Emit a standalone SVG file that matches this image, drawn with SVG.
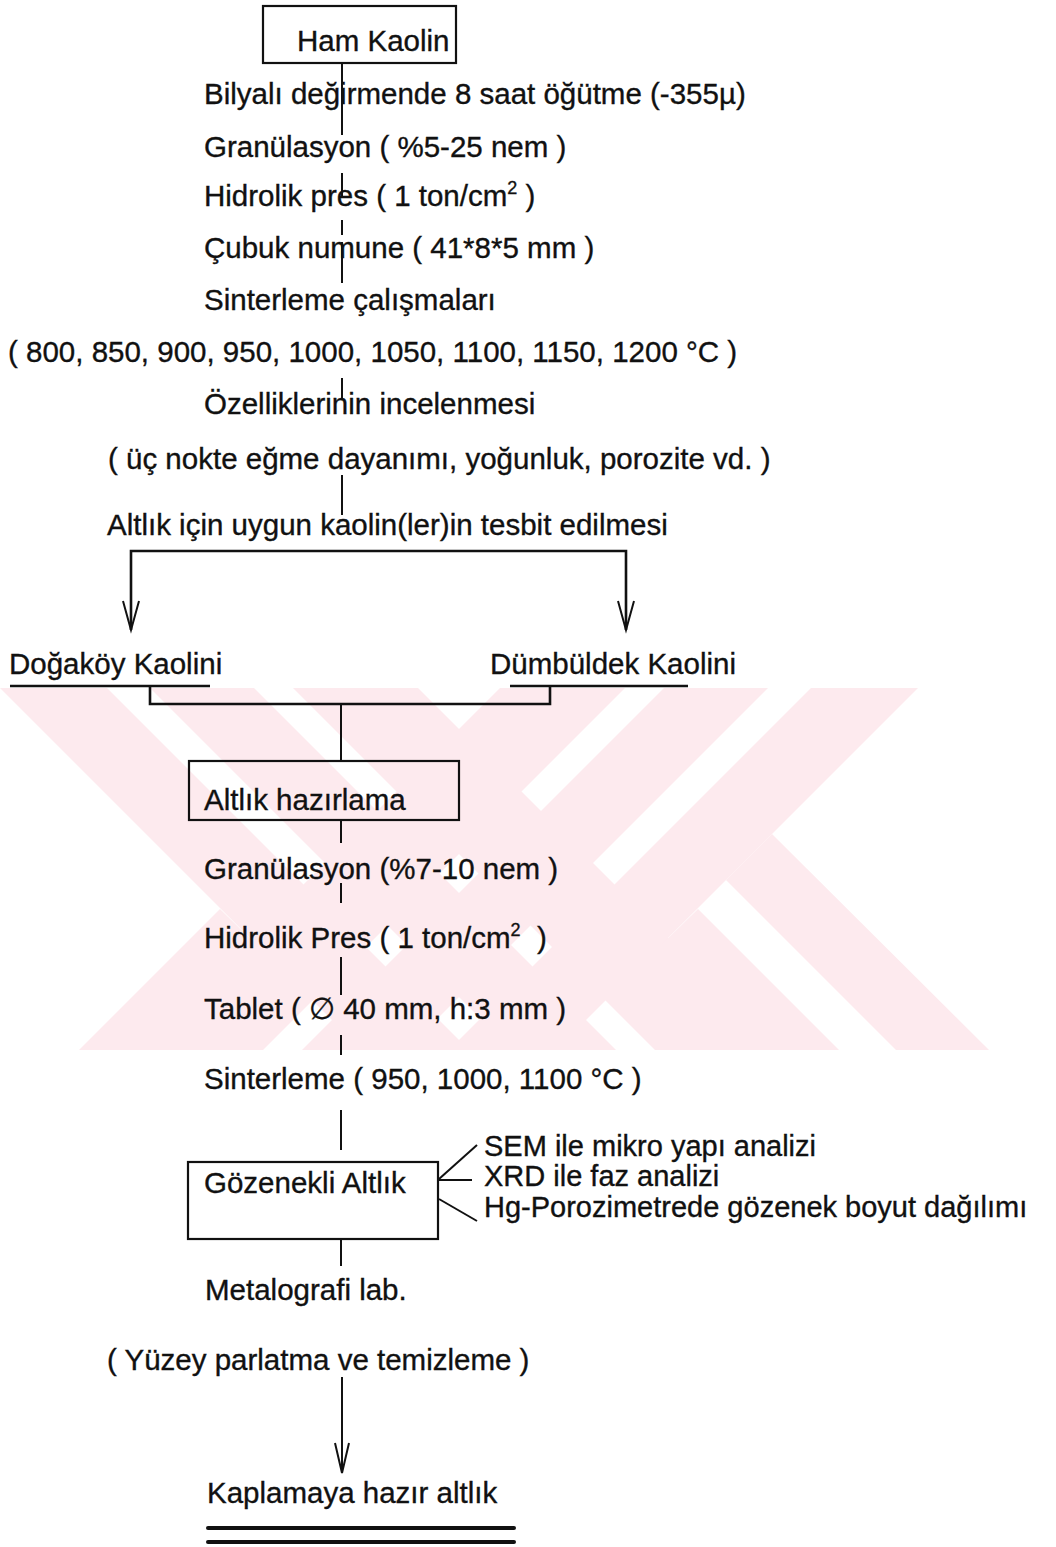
<svg xmlns="http://www.w3.org/2000/svg" width="1056" height="1547" viewBox="0 0 1056 1547">
  <style>
    .t { font-family: "Liberation Sans", Arial, sans-serif; font-size: 29.5px; fill: #111; stroke: #111; stroke-width: 0.35; white-space: pre; }
    .sm { font-size: 29px; }
    .sup { font-size: 18px; }
    .ln { stroke: #111; stroke-width: 2; fill: none; }
    .br { stroke: #111; stroke-width: 2.6; fill: none; }
    .box { stroke: #111; stroke-width: 2.2; fill: none; }
    .wm { fill: #fdeaee; }
  </style>
  <defs>
    <clipPath id="band">
      <rect x="0" y="688" width="1056" height="362"/>
    </clipPath>
  </defs>

  <rect width="1056" height="1547" fill="#fff"/>

  <!-- background emblem (faint) -->
  <g id="emblem" clip-path="url(#band)">
    <!-- rising stripes -->
    <polygon class="wm" points="500,688 625,688 263,1050 138,1050"/>
    <polygon class="wm" points="664,688 768,688 406,1050 302,1050"/>
    <polygon class="wm" points="811,688 918,688 556,1050 449,1050"/>
    <!-- falling stripes -->
    <polygon class="wm" points="0,688 107,688 469,1050 362,1050"/>
    <polygon class="wm" points="150,688 254,688 616,1050 512,1050"/>
    <polygon class="wm" points="293,688 418,688 780,1050 655,1050"/>
    <!-- side arms -->
    <polygon class="wm" points="772,834 989,1050 896,1050 726,880"/>
    <polygon class="wm" points="698,909 839,1050 754,1050 655,951"/>
    <polygon class="wm" points="220,909 79,1050 164,1050 263,951"/>
  </g>

  <!-- connectors -->
  <g id="connectors">
    <line class="ln" x1="342" y1="63" x2="342" y2="135"/>
    <line class="ln" x1="342" y1="173" x2="342" y2="198"/>
    <line class="ln" x1="342" y1="220" x2="342" y2="235"/>
    <line class="ln" x1="342" y1="242" x2="342" y2="283"/>
    <line class="ln" x1="342" y1="378" x2="342" y2="399"/>
    <line class="ln" x1="342" y1="475" x2="342" y2="515"/>
    <!-- split towards the two kaolins -->
    <polyline class="br" points="131,630 131,551 626,551 626,630"/>
    <polyline class="ln" points="123,601 131,630 139,601"/>
    <polyline class="ln" points="618,601 626,630 634,601"/>
    <!-- underlines and merge -->
    <line class="br" x1="10" y1="686" x2="210" y2="686"/>
    <line class="br" x1="510" y1="686" x2="688" y2="686"/>
    <polyline class="br" points="150,686 150,704 550,704 550,686"/>
    <line class="ln" x1="341" y1="704" x2="341" y2="761"/>
    <line class="ln" x1="341" y1="820" x2="341" y2="843"/>
    <line class="ln" x1="341" y1="883" x2="341" y2="903"/>
    <line class="ln" x1="341" y1="957" x2="341" y2="995"/>
    <line class="ln" x1="341" y1="1035" x2="341" y2="1055"/>
    <line class="ln" x1="341" y1="1110" x2="341" y2="1150"/>
    <line class="ln" x1="341" y1="1239" x2="341" y2="1266"/>
    <!-- analysis branches -->
    <line class="ln" x1="439" y1="1179" x2="477" y2="1145"/>
    <line class="ln" x1="439" y1="1180" x2="472" y2="1180"/>
    <line class="ln" x1="439" y1="1199" x2="477" y2="1221"/>
    <!-- final arrow -->
    <line class="ln" x1="342" y1="1377" x2="342" y2="1471"/>
    <polyline class="ln" points="335,1443 342,1473 349,1443"/>
    <!-- closing double rule -->
    <line x1="208" y1="1528" x2="514" y2="1528" stroke="#111" stroke-width="4" stroke-linecap="round"/>
    <line x1="208" y1="1542" x2="514" y2="1542" stroke="#111" stroke-width="4" stroke-linecap="round"/>
  </g>

  <g id="n-ham-kaolin">
    <rect class="box" x="263" y="6" width="193" height="57"/>
    <text class="t" x="297" y="51">Ham Kaolin</text>
  </g>
  <g id="n-ogutme"><text class="t" x="204" y="104">Bilyalı değirmende 8 saat öğütme (-355µ)</text></g>
  <g id="n-granulasyon1"><text class="t" x="204" y="157">Granülasyon ( %5-25 nem )</text></g>
  <g id="n-pres1"><text class="t" x="204" y="206">Hidrolik pres ( 1 ton/cm<tspan class="sup" dy="-12">2</tspan><tspan dy="12"> )</tspan></text></g>
  <g id="n-cubuk"><text class="t" x="204" y="258">Çubuk numune ( 41*8*5 mm )</text></g>
  <g id="n-sinter1"><text class="t" x="204" y="310">Sinterleme çalışmaları</text></g>
  <g id="n-sicaklik1"><text class="t" x="8" y="362">( 800, 850, 900, 950, 1000, 1050, 1100, 1150, 1200 °C )</text></g>
  <g id="n-ozellik"><text class="t" x="204" y="414">Özelliklerinin incelenmesi</text></g>
  <g id="n-testler"><text class="t" x="108" y="469">( üç nokte eğme dayanımı, yoğunluk, porozite vd. )</text></g>
  <g id="n-secim"><text class="t" x="107" y="535">Altlık için uygun kaolin(ler)in tesbit edilmesi</text></g>
  <g id="n-dogakoy"><text class="t" x="9" y="674">Doğaköy Kaolini</text></g>
  <g id="n-dumbuldek"><text class="t" x="490" y="674">Dümbüldek Kaolini</text></g>
  <g id="n-altlik-hazirlama">
    <rect class="box" x="189" y="761" width="270" height="59"/>
    <text class="t" x="204" y="810">Altlık hazırlama</text>
  </g>
  <g id="n-granulasyon2"><text class="t" x="204" y="879">Granülasyon (%7-10 nem )</text></g>
  <g id="n-pres2"><text class="t" x="204" y="948">Hidrolik Pres ( 1 ton/cm<tspan class="sup" dy="-12">2</tspan><tspan dy="12">  )</tspan></text></g>
  <g id="n-tablet"><text class="t" x="204" y="1019">Tablet ( ∅ 40 mm, h:3 mm )</text></g>
  <g id="n-sinter2"><text class="t" x="204" y="1089">Sinterleme ( 950, 1000, 1100 °C )</text></g>
  <g id="n-gozenekli">
    <rect class="box" x="188" y="1162" width="250" height="77"/>
    <text class="t" x="204" y="1193">Gözenekli Altlık</text>
  </g>
  <g id="n-sem"><text class="t sm" x="484" y="1156">SEM ile mikro yapı analizi</text></g>
  <g id="n-xrd"><text class="t sm" x="484" y="1186">XRD ile faz analizi</text></g>
  <g id="n-hg"><text class="t sm" x="484" y="1217">Hg-Porozimetrede gözenek boyut dağılımı</text></g>
  <g id="n-metalografi"><text class="t" x="205" y="1300">Metalografi lab.</text></g>
  <g id="n-yuzey"><text class="t" x="107" y="1370">( Yüzey parlatma ve temizleme )</text></g>
  <g id="n-hazir"><text class="t" x="207" y="1503">Kaplamaya hazır altlık</text></g>
</svg>
